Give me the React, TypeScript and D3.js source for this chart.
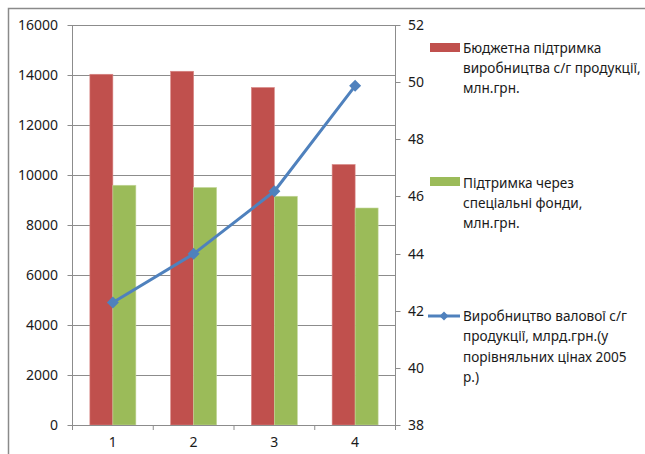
import React from "react";
import * as d3 from "d3";

const categories = ["1", "2", "3", "4"];
const budgetSupport = [14030, 14150, 13500, 10420];
const specialFunds = [9590, 9500, 9150, 8680];
const grossOutput = [42.29, 43.99, 46.18, 49.87];
const leftTicks = [0, 2000, 4000, 6000, 8000, 10000, 12000, 14000, 16000];
const rightTicks = [38, 40, 42, 44, 46, 48, 50, 52];

const legendBudget = ["Бюджетна підтримка", "виробництва с/г продукції,", "млн.грн."];
const legendSpecial = ["Підтримка через", "спеціальні фонди,", "млн.грн."];
const legendOutput = ["Виробництво валової с/г", "продукції, млрд.грн.(у", "порівняльних цінах 2005", "р.)"];

const RED = "#C0504D";
const GREEN = "#9BBB59";
const BLUE = "#4F81BD";
const GRID = "#8c8c8c";
const FONT = "'Noto Sans', sans-serif";

export default function App() {
  const W = 645, H = 454;
  const left = 72.5, right = 395.5, top = 25, bottom = 425;
  const x = d3.scaleBand<string>().domain(categories).range([left, right]);
  const yL = d3.scaleLinear().domain([0, 16000]).range([bottom, top]);
  const yR = d3.scaleLinear().domain([38, 52]).range([bottom, top]);
  const bw = 23;
  const line = d3.line<number>()
    .x((_, i) => x(categories[i])! + x.bandwidth() / 2)
    .y((d) => yR(d));
  const diamond = (cx: number, cy: number, r: number) =>
    `M${cx},${cy - r}L${cx + r},${cy}L${cx},${cy + r}L${cx - r},${cy}Z`;
  const tickStyle = { fontFamily: FONT, fontSize: 14, fill: "#1a1a1a" } as const;
  const textStyle = { fontFamily: FONT, fontSize: 13.6, fill: "#1a1a1a" } as const;
  return (
    <div style={{ position: "fixed", left: 0, top: 0 }}>
      <svg width={W} height={H} style={{ display: "block", background: "#fff" }}>
        <rect x={8.5} y={8.5} width={W + 10} height={H + 10} fill="#fff" stroke="#8a8a8a" strokeWidth={1.5} />
        {leftTicks.map((t) => (
          <g key={"l" + t}>
            <line x1={left - 5} x2={right} y1={Math.round(yL(t)) + 0.5} y2={Math.round(yL(t)) + 0.5} stroke={GRID} strokeWidth={1} />
            <text x={58} y={yL(t) + 5} textAnchor="end" {...tickStyle}>{t}</text>
          </g>
        ))}
        {rightTicks.map((t) => (
          <g key={"r" + t}>
            <line x1={right} x2={right + 5} y1={Math.round(yR(t)) + 0.5} y2={Math.round(yR(t)) + 0.5} stroke={GRID} />
            <text x={408} y={yR(t) + 5} textAnchor="start" {...tickStyle}>{t}</text>
          </g>
        ))}
        <line x1={left} x2={left} y1={top} y2={bottom} stroke={GRID} />
        <line x1={right} x2={right} y1={top} y2={bottom} stroke={GRID} />
        {categories.map((c, i) => (
          <g key={"c" + c}>
            <line x1={x(c)!} x2={x(c)!} y1={bottom} y2={bottom + 5} stroke={GRID} />
            {i === categories.length - 1 && (
              <line x1={right} x2={right} y1={bottom} y2={bottom + 5} stroke={GRID} />
            )}
            <text x={x(c)! + x.bandwidth() / 2} y={bottom + 22} textAnchor="middle" {...tickStyle}>{c}</text>
          </g>
        ))}
        {categories.map((c, i) => {
          const cx = x(c)! + x.bandwidth() / 2;
          return (
            <g key={"b" + c}>
              <rect x={cx - bw} y={yL(budgetSupport[i])} width={bw} height={bottom - yL(budgetSupport[i])} fill={RED} stroke="#d98886" strokeWidth={0.6} />
              <rect x={cx} y={yL(specialFunds[i])} width={bw} height={bottom - yL(specialFunds[i])} fill={GREEN} stroke="#c4d89b" strokeWidth={0.6} />
            </g>
          );
        })}
        <path d={line(grossOutput) || ""} fill="none" stroke={BLUE} strokeWidth={3} strokeLinejoin="round" />
        {grossOutput.map((v, i) => (
          <path key={"m" + i} d={diamond(x(categories[i])! + x.bandwidth() / 2, yR(v), 6)} fill={BLUE} />
        ))}
        <line x1={left} x2={right} y1={bottom + 0.5} y2={bottom + 0.5} stroke={GRID} />

        <rect x={430} y={43} width={30} height={9} fill={RED} />
        {legendBudget.map((s, i) => (
          <text key={"lb" + i} x={463} y={52.5 + i * 20} {...textStyle}>{s}</text>
        ))}
        <rect x={430} y={177} width={30} height={9} fill={GREEN} />
        {legendSpecial.map((s, i) => (
          <text key={"ls" + i} x={463} y={187.5 + i * 20} {...textStyle}>{s}</text>
        ))}
        <line x1={428} x2={460} y1={316} y2={316} stroke={BLUE} strokeWidth={3} />
        <path d={diamond(444, 316, 4.5)} fill={BLUE} />
        {legendOutput.map((s, i) => (
          <text key={"lo" + i} x={463} y={320.5 + i * 20.5} {...textStyle}>{s}</text>
        ))}
      </svg>
    </div>
  );
}
